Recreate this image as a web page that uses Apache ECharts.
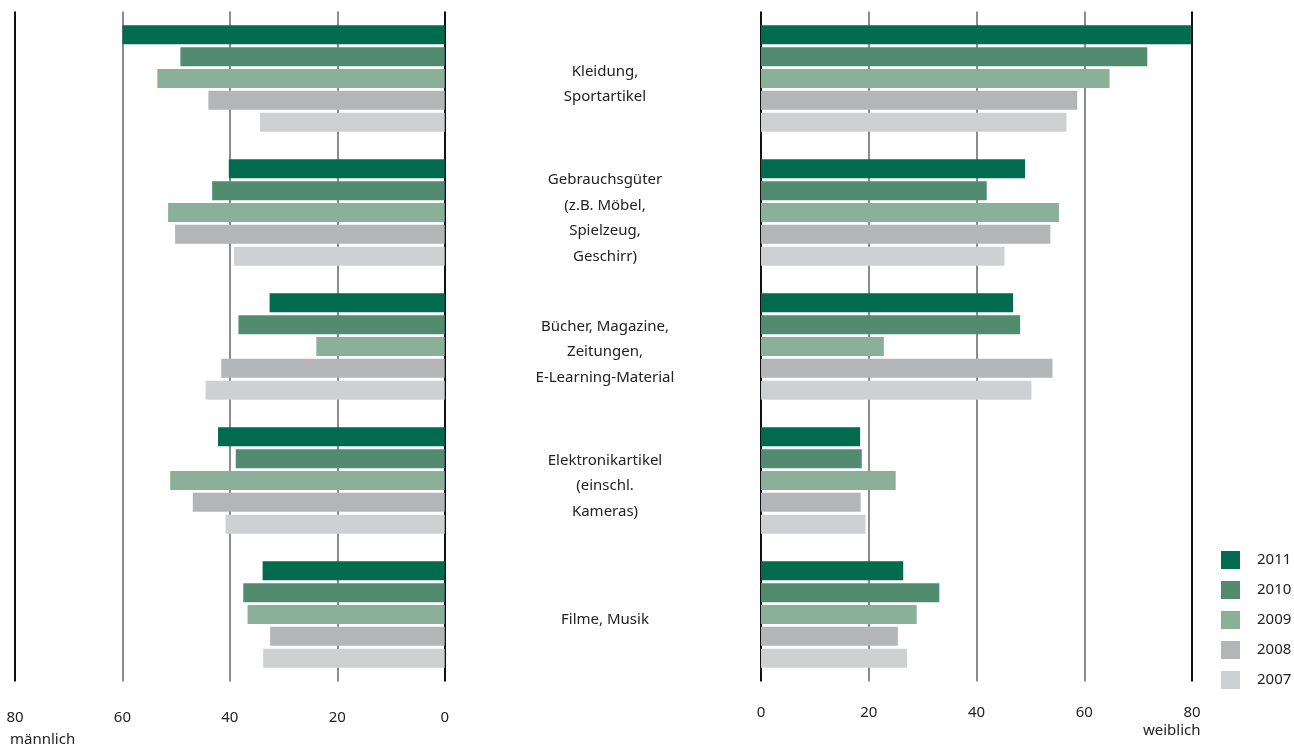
<!DOCTYPE html>
<html>
<head>
<meta charset="utf-8">
<style>
  html, body { margin: 0; padding: 0; background: #fff; }
  #chart { width: 1294px; height: 749px; }
</style>
</head>
<body>
<div id="chart"></div>
<script src="https://cdn.jsdelivr.net/npm/echarts@6/dist/echarts.min.js"></script>
<script type="text/javascript">
    // Kategorien und Jahre
    var categories = ['Kleidung,\nSportartikel', 'Gebrauchsgüter\n(z.B. Möbel,\nSpielzeug,\nGeschirr)', 'Bücher, Magazine,\nZeitungen,\nE-Learning-Material', 'Elektronikartikel\n(einschl.\nKameras)', 'Filme, Musik'];
    var years = ['2011', '2010', '2009', '2008', '2007'];
    var colors = ['#006b4d', '#518b70', '#8bb09a', '#b4b5b7', '#cfd0d2'];
    var xTicks = [0, 20, 40, 60, 80];

    // männlich (Prozent) je Jahr
    var m2011 = [60.0, 40.2, 32.6, 42.2, 33.9];
    var m2010 = [49.2, 43.3, 38.4, 38.9, 37.5];
    var m2009 = [53.5, 51.5, 23.9, 51.1, 36.7];
    var m2008 = [44.0, 50.2, 41.6, 46.9, 32.5];
    var m2007 = [34.4, 39.2, 44.5, 40.8, 33.8];

    // weiblich (Prozent) je Jahr
    var w2011 = [79.8, 49.0, 46.8, 18.4, 26.4];
    var w2010 = [71.7, 41.9, 48.1, 18.7, 33.1];
    var w2009 = [64.7, 55.3, 22.8, 25.0, 28.9];
    var w2008 = [58.7, 53.7, 54.1, 18.5, 25.4];
    var w2007 = [56.7, 45.2, 50.2, 19.4, 27.1];

    var male = [m2011, m2010, m2009, m2008, m2007];
    var female = [w2011, w2010, w2009, w2008, w2007];

    var font = '"Noto Sans", sans-serif';
    var lineColors = ['#111', '#8c8c8c', '#8c8c8c', '#8c8c8c', '#111'];

    var myChart = echarts.init(document.getElementById('chart'));

    function valueAxis(gridIndex, inverse, margin) {
        return {
            type: 'value',
            gridIndex: gridIndex,
            min: xTicks[0],
            max: xTicks[xTicks.length - 1],
            interval: 20,
            inverse: inverse,
            axisLine: { show: false },
            axisTick: { show: false },
            axisLabel: { color: '#222', fontSize: 15, fontFamily: font, margin: margin },
            splitLine: { show: true, lineStyle: { color: lineColors, width: 2 } }
        };
    }

    var series = [];
    years.forEach(function (y, i) {
        series.push({
            name: y, type: 'bar', xAxisIndex: 0, yAxisIndex: 0,
            data: male[i], barWidth: 19, barGap: '15%',
            itemStyle: { color: colors[i] }
        });
        series.push({
            name: y, type: 'bar', xAxisIndex: 1, yAxisIndex: 1,
            data: female[i], barWidth: 19, barGap: '15%',
            itemStyle: { color: colors[i] }
        });
    });

    var option = {
        animation: false,
        textStyle: { fontFamily: font },
        grid: [
            { left: 15, top: 11.5, width: 429.7, height: 670 },
            { left: 761, top: 11.5, width: 431, height: 670 },
            // nur für die Kategorietexte in der Mitte
            { left: 761, top: 17, width: 431, height: 670 }
        ],
        legend: {
            data: years,
            orient: 'vertical',
            left: 1216,
            top: 546,
            itemWidth: 19,
            itemHeight: 18,
            itemGap: 12,
            icon: 'rect',
            textStyle: { color: '#222', fontSize: 15, fontFamily: font, padding: [2, 0, 0, 12] }
        },
        xAxis: [
            valueAxis(0, true, 29),
            valueAxis(1, false, 24),
            { type: 'value', gridIndex: 2, min: 0, max: 80, show: false }
        ],
        yAxis: [
            {
                type: 'category', gridIndex: 0, data: categories, inverse: true,
                axisLine: { show: false }, axisTick: { show: false }, axisLabel: { show: false }
            },
            {
                type: 'category', gridIndex: 1, data: categories, inverse: true,
                axisLine: { show: false }, axisTick: { show: false }, axisLabel: { show: false }
            },
            {
                type: 'category', gridIndex: 2, data: categories, inverse: true,
                axisLine: { show: false }, axisTick: { show: false }, splitLine: { show: false },
                axisLabel: { color: '#222', fontSize: 15, fontFamily: font, align: 'center', margin: 156, lineHeight: 25.5 }
            }
        ],
        graphic: [
            { type: 'text', left: 10, top: 732, style: { text: 'männlich', fill: '#222', fontSize: 15, fontFamily: font } },
            { type: 'text', left: 1143, top: 723, style: { text: 'weiblich', fill: '#222', fontSize: 15, fontFamily: font } }
        ],
        series: series
    };
    myChart.setOption(option);
</script>
</body>
</html>
